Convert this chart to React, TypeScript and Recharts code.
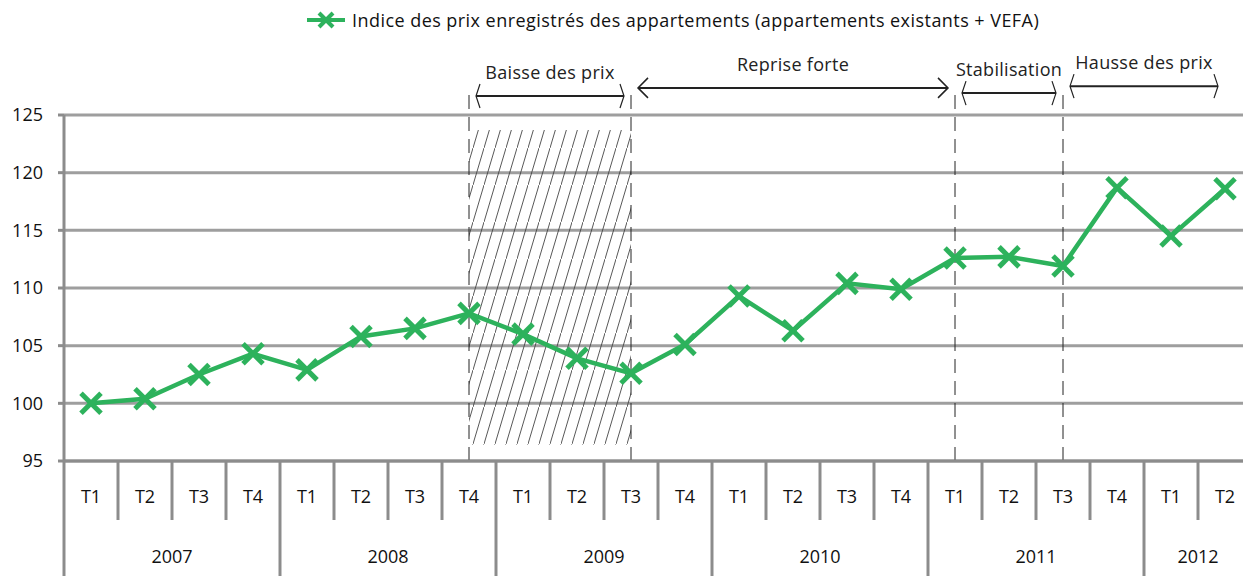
import React from 'react';
import { LineChart, Line, XAxis, YAxis, CartesianGrid, ReferenceArea, ReferenceLine } from 'recharts';

const periodYears = [
  '2007', '2007', '2007', '2007',
  '2008', '2008', '2008', '2008',
  '2009', '2009', '2009', '2009',
  '2010', '2010', '2010', '2010',
  '2011', '2011', '2011', '2011',
  '2012', '2012',
];
const periodQuarters = [
  'T1', 'T2', 'T3', 'T4',
  'T1', 'T2', 'T3', 'T4',
  'T1', 'T2', 'T3', 'T4',
  'T1', 'T2', 'T3', 'T4',
  'T1', 'T2', 'T3', 'T4',
  'T1', 'T2',
];
const priceIndex = [
  100.0, 100.4, 102.5, 104.3,
  102.9, 105.8, 106.5, 107.8,
  106.0, 103.9, 102.6, 105.1,
  109.3, 106.3, 110.4, 109.9,
  112.6, 112.7, 111.9, 118.7,
  114.5, 118.6,
];
const yTicks = [95, 100, 105, 110, 115, 120, 125];
const seriesName = 'Indice des prix enregistrés des appartements (appartements existants + VEFA)';

const dividers = ['2008-T4', '2009-T3', '2011-T1', '2011-T3'];
const hatchFrom = '2008-T4';
const hatchTo = '2009-T3';
const phaseLabels = ['Baisse des prix', 'Reprise forte', 'Stabilisation', 'Hausse des prix'];
const phaseFrom = ['2008-T4', '2009-T3', '2011-T1', '2011-T3'];
const phaseTo = ['2009-T3', '2011-T1', '2011-T3', '2012-T2'];
const phaseLevel = [126.65, 127.35, 126.9, 127.5];
const phaseHeads = ['thin', 'wide', 'thin', 'thin'];

const data = periodYears.map((y, i) => ({
  key: `${y}-${periodQuarters[i]}`,
  value: priceIndex[i],
}));

const FONT = "'Open Sans', 'DejaVu Sans', sans-serif";
const GREEN = '#2db25c';
const AXIS = '#8c8c8c';
const GRID = '#9e9e9e';
const INK = '#222';

const PLOT_LEFT = 64;
const STEP = 54;
const N = data.length;
const RIGHT_MARGIN = 18;
const CHART_W = PLOT_LEFT + N * STEP + RIGHT_MARGIN;
const CHART_H = 576;

const XMarker = (props: any) => {
  const { cx, cy } = props;
  if (cx == null || cy == null) return null;
  const r = 10;
  return (
    <g>
      <line x1={cx - r} y1={cy - r} x2={cx + r} y2={cy + r} stroke={GREEN} strokeWidth={5} />
      <line x1={cx - r} y1={cy + r} x2={cx + r} y2={cy - r} stroke={GREEN} strokeWidth={5} />
    </g>
  );
};

const XTick = (props: any) => {
  const { x, y } = props;
  const i = props.index ?? props.payload?.index ?? 0;
  const isYearStart = periodQuarters[i] === 'T1';
  const yearCount = periodYears.filter((v) => v === periodYears[i]).length;
  return (
    <g>
      <line
        x1={x - STEP / 2}
        x2={x - STEP / 2}
        y1={y}
        y2={isYearStart ? y + 130 : y + 59}
        stroke={AXIS}
        strokeWidth={3}
      />
      <text x={x} y={y + 35} textAnchor="middle" dominantBaseline="central" fontSize={18} fontFamily={FONT} fill="#111">
        {periodQuarters[i]}
      </text>
      {isYearStart && (
        <text
          x={x + ((yearCount - 1) * STEP) / 2}
          y={y + 95}
          textAnchor="middle"
          dominantBaseline="central"
          fontSize={18}
          fontFamily={FONT}
          fill="#111"
        >
          {periodYears[i]}
        </text>
      )}
    </g>
  );
};

const makeArrow = (label: string, head: string) => (p: any) => {
  const inset = 7;
  const xa = Math.min(p.x1, p.x2) + inset;
  const xb = Math.max(p.x1, p.x2) - inset;
  const y = p.y1;
  const hx = head === 'wide' ? 10 : 4;
  const hy = head === 'wide' ? 10 : 12;
  const sw = head === 'wide' ? 1.5 : 1.2;
  return (
    <g>
      <line x1={xa} y1={y} x2={xb} y2={y} stroke={INK} strokeWidth={2} />
      <polyline points={`${xa + hx},${y - hy} ${xa},${y} ${xa + hx},${y + hy}`} fill="none" stroke={INK} strokeWidth={sw} />
      <polyline points={`${xb - hx},${y - hy} ${xb},${y} ${xb - hx},${y + hy}`} fill="none" stroke={INK} strokeWidth={sw} />
      <text
        x={(xa + xb) / 2}
        y={y - 24}
        textAnchor="middle"
        dominantBaseline="central"
        fontSize={18}
        letterSpacing={0.3}
        fontFamily={FONT}
        fill={INK}
      >
        {label}
      </text>
    </g>
  );
};

export default function App() {
  return (
    <div style={{ position: 'absolute', left: 0, top: 0, width: 1243, height: 576, overflow: 'hidden', background: '#fff' }}>
      <div
        style={{
          position: 'absolute',
          left: 307,
          top: 9,
          height: 22,
          display: 'flex',
          alignItems: 'center',
          fontFamily: FONT,
          fontSize: 18,
          letterSpacing: 0.45,
          color: '#111',
          whiteSpace: 'nowrap',
          zIndex: 2,
        }}
      >
        <svg width={40} height={22} style={{ display: 'block' }}>
          <line x1={0} y1={11} x2={38} y2={11} stroke={GREEN} strokeWidth={4} />
          <line x1={12} y1={4} x2={26} y2={18} stroke={GREEN} strokeWidth={4} />
          <line x1={12} y1={18} x2={26} y2={4} stroke={GREEN} strokeWidth={4} />
        </svg>
        <span style={{ marginLeft: 5 }}>{seriesName}</span>
      </div>
      <LineChart
        width={CHART_W}
        height={CHART_H}
        data={data}
        margin={{ top: 115, right: RIGHT_MARGIN, bottom: 0, left: 0 }}
      >
        <defs>
          <pattern id="hatch" width={11} height={37} patternUnits="userSpaceOnUse">
            <line x1={0} y1={37} x2={11} y2={0} stroke="#444" strokeWidth={0.9} />
          </pattern>
        </defs>
        <CartesianGrid vertical={false} stroke={GRID} strokeWidth={3} />
        <XAxis
          dataKey="key"
          interval={0}
          height={115}
          tickSize={0}
          tickMargin={0}
          padding={{ left: STEP / 2, right: STEP / 2 }}
          axisLine={{ stroke: AXIS, strokeWidth: 3 }}
          tickLine={false}
          tick={<XTick />}
        />
        <YAxis
          width={PLOT_LEFT}
          domain={[95, 125]}
          ticks={yTicks}
          interval={0}
          tickSize={6}
          tickMargin={15}
          axisLine={{ stroke: AXIS, strokeWidth: 3 }}
          tickLine={{ stroke: AXIS, strokeWidth: 3 }}
          tick={{ fill: '#111', fontSize: 18, fontFamily: FONT }}
        />
        <ReferenceArea
          x1={hatchFrom}
          x2={hatchTo}
          y1={96.4}
          y2={123.7}
          fill="url(#hatch)"
          fillOpacity={1}
          stroke="none"
          ifOverflow="visible"
        />
        {dividers.map((d) => (
          <ReferenceLine
            key={d}
            segment={[
              { x: d, y: 95 },
              { x: d, y: 127 },
            ]}
            stroke={INK}
            strokeWidth={1}
            strokeDasharray="14 8"
            ifOverflow="visible"
          />
        ))}
        {phaseLabels.map((label, i) => (
          <ReferenceLine
            key={label}
            segment={[
              { x: phaseFrom[i], y: phaseLevel[i] },
              { x: phaseTo[i], y: phaseLevel[i] },
            ]}
            ifOverflow="visible"
            shape={makeArrow(label, phaseHeads[i])}
          />
        ))}
        <Line
          type="linear"
          dataKey="value"
          name={seriesName}
          stroke={GREEN}
          strokeWidth={4.5}
          dot={<XMarker />}
          activeDot={false}
          isAnimationActive={false}
        />
      </LineChart>
    </div>
  );
}
